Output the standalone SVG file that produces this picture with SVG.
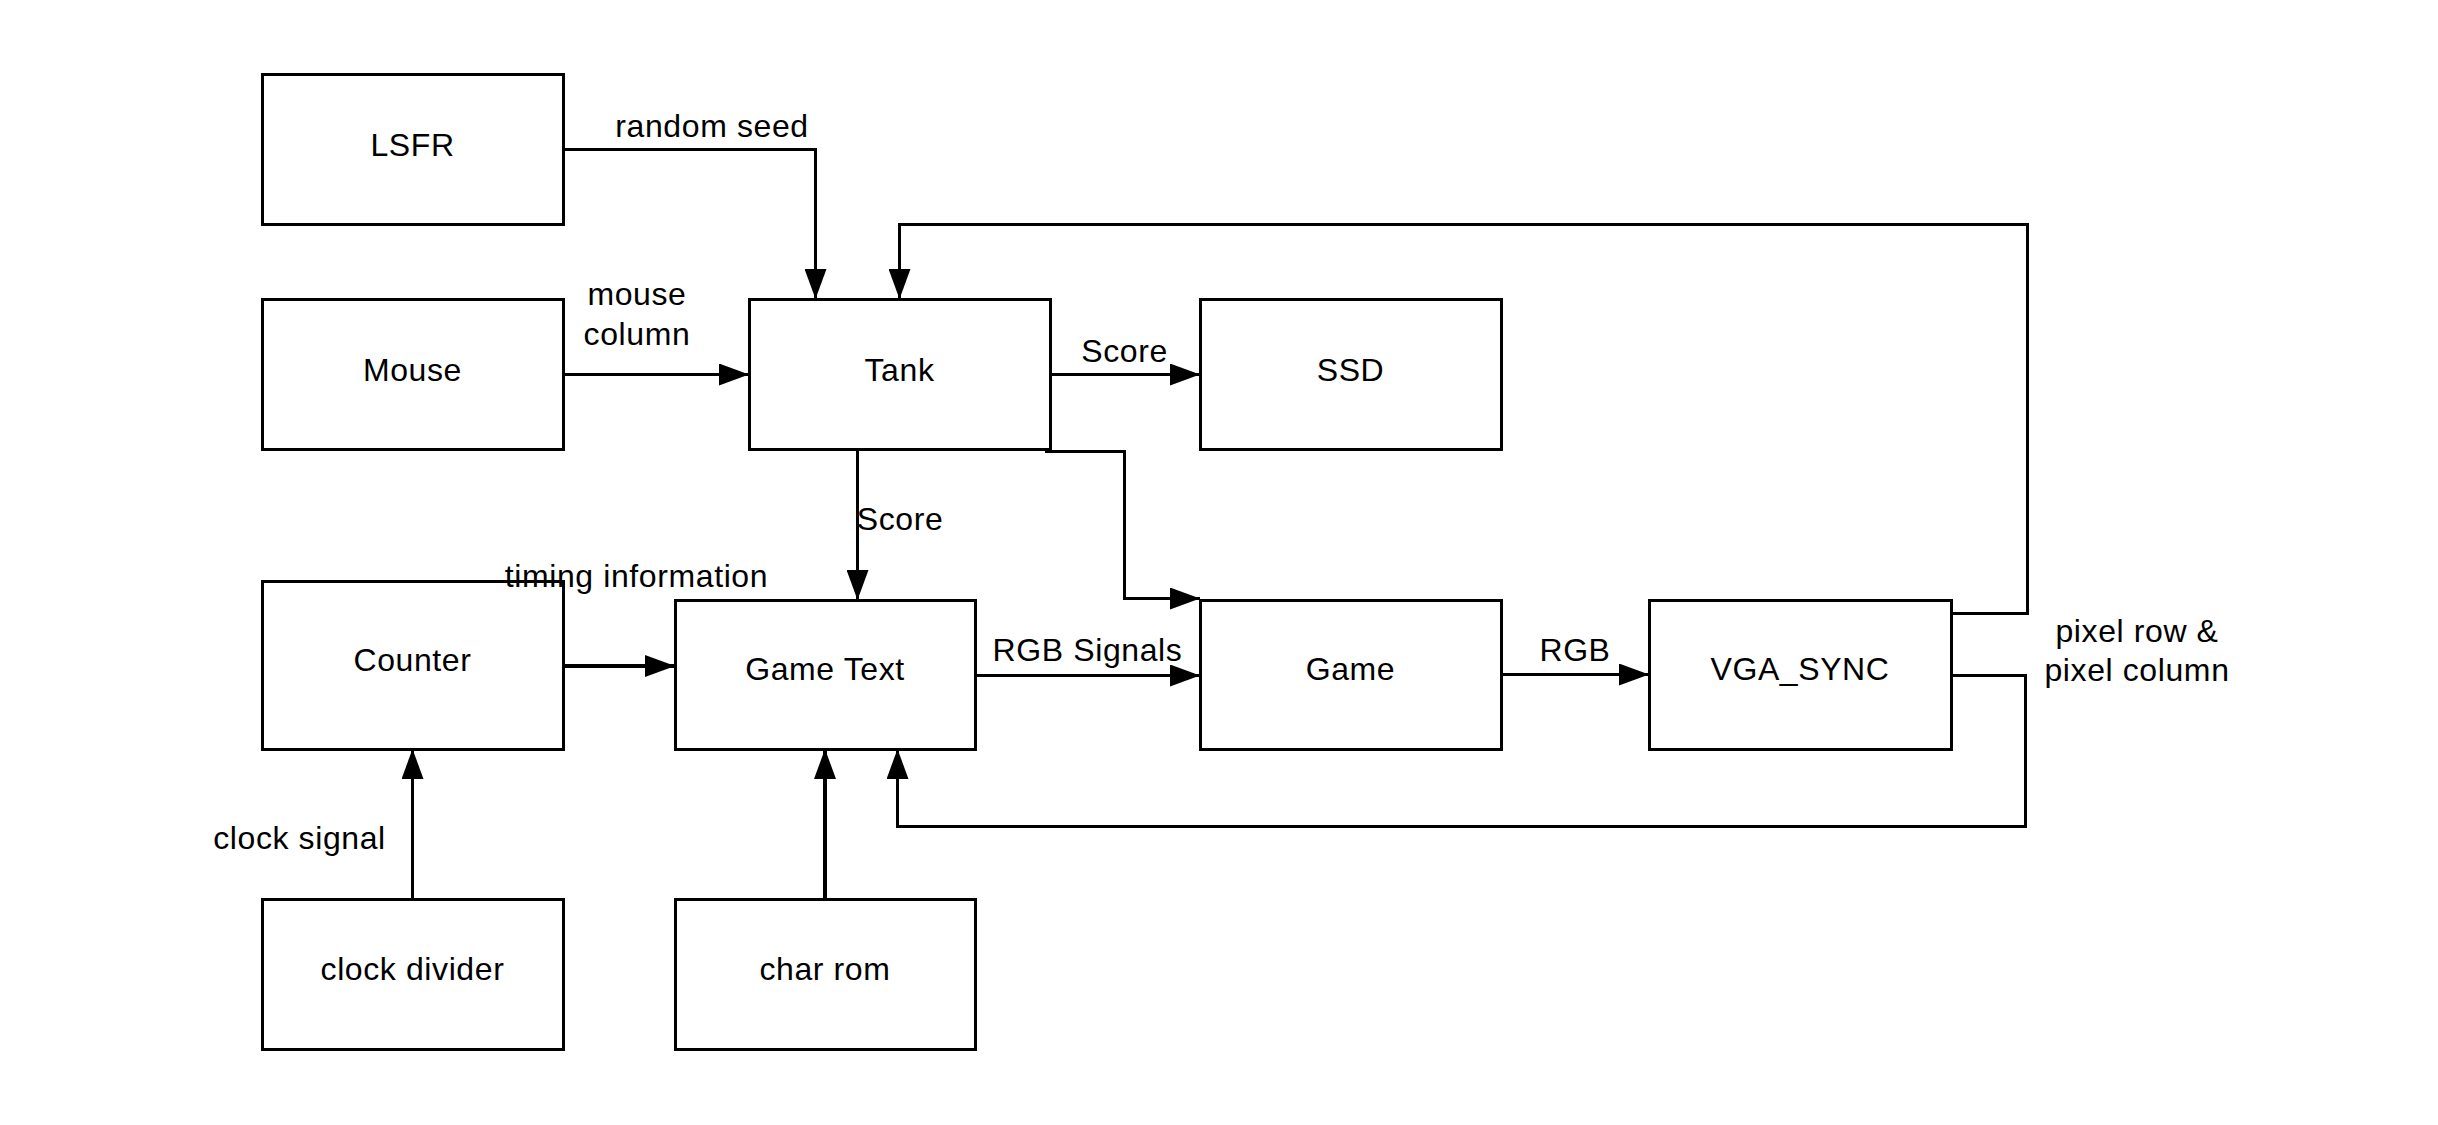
<svg xmlns="http://www.w3.org/2000/svg" width="2438" height="1125" viewBox="0 0 2438 1125">
<style>
  .box { fill: #ffffff; stroke: #000000; stroke-width: 3; }
  .lbl { font-family: "Liberation Sans", Arial, sans-serif; font-size: 32px; letter-spacing: 0.6px; fill: #000000; text-anchor: middle; }
  .wire { fill: none; stroke: #000000; stroke-width: 3; marker-end: url(#arrow); }
  .thick { stroke-width: 4; }
</style>
<defs>
  <marker id="arrow" markerUnits="userSpaceOnUse" markerWidth="30" markerHeight="22" refX="30" refY="11" orient="auto">
    <path d="M0,0 L30,11 L0,22 Z" fill="#000000"/>
  </marker>
</defs>
<rect width="2438" height="1125" fill="#ffffff"/>

<g id="connectors">
  <path class="wire" d="M563,149.5 H815.5 V299"/>
  <path class="wire" d="M563,374.5 H749"/>
  <path class="wire" d="M1050,374.5 H1200"/>
  <path class="wire" d="M857.5,449 V600"/>
  <path class="wire" d="M1045,451.5 H1124.5 V598.5 H1200"/>
  <path class="wire thick" d="M563,666 H675"/>
  <path class="wire" d="M975,675.5 H1200"/>
  <path class="wire" d="M1501,674.5 H1649"/>
  <path class="wire" d="M1951,613.5 H2027.5 V224.5 H899.5 V299"/>
  <path class="wire" d="M1951,675.5 H2025.5 V826.5 H897.5 V749"/>
  <path class="wire" d="M412.5,899 V749"/>
  <path class="wire thick" d="M825,899 V749"/>
</g>

<g id="node-lsfr">
  <rect class="box" x="262.5" y="74.5" width="301" height="150"/>
  <text class="lbl" x="412.5" y="156">LSFR</text>
</g>
<g id="node-mouse">
  <rect class="box" x="262.5" y="299.5" width="301" height="150"/>
  <text class="lbl" x="412.5" y="381">Mouse</text>
</g>
<g id="node-tank">
  <rect class="box" x="749.5" y="299.5" width="301" height="150"/>
  <text class="lbl" x="899.5" y="381">Tank</text>
</g>
<g id="node-ssd">
  <rect class="box" x="1200.5" y="299.5" width="301" height="150"/>
  <text class="lbl" x="1350.5" y="381">SSD</text>
</g>
<g id="node-counter">
  <rect class="box" x="262.5" y="581.5" width="301" height="168"/>
  <text class="lbl" x="412.5" y="671">Counter</text>
</g>
<g id="node-gametext">
  <rect class="box" x="675.5" y="600.5" width="300" height="149"/>
  <text class="lbl" x="825" y="680">Game Text</text>
</g>
<g id="node-game">
  <rect class="box" x="1200.5" y="600.5" width="301" height="149"/>
  <text class="lbl" x="1350.5" y="680">Game</text>
</g>
<g id="node-vgasync">
  <rect class="box" x="1649.5" y="600.5" width="302" height="149"/>
  <text class="lbl" x="1800" y="680">VGA_SYNC</text>
</g>
<g id="node-clockdivider">
  <rect class="box" x="262.5" y="899.5" width="301" height="150"/>
  <text class="lbl" x="412.5" y="980">clock divider</text>
</g>
<g id="node-charrom">
  <rect class="box" x="675.5" y="899.5" width="300" height="150"/>
  <text class="lbl" x="825" y="980">char rom</text>
</g>

<g id="labels">
  <text class="lbl" x="712" y="137">random seed</text>
  <text class="lbl" x="637" y="305">mouse</text>
  <text class="lbl" x="637" y="345">column</text>
  <text class="lbl" x="1124.5" y="362">Score</text>
  <text class="lbl" x="900" y="530">Score</text>
  <text class="lbl" x="636.5" y="587">timing information</text>
  <text class="lbl" x="1087.5" y="661">RGB Signals</text>
  <text class="lbl" x="1575" y="661">RGB</text>
  <text class="lbl" x="2137" y="642">pixel row &amp;</text>
  <text class="lbl" x="2137" y="681">pixel column</text>
  <text class="lbl" x="299.5" y="849">clock signal</text>
</g>
</svg>
